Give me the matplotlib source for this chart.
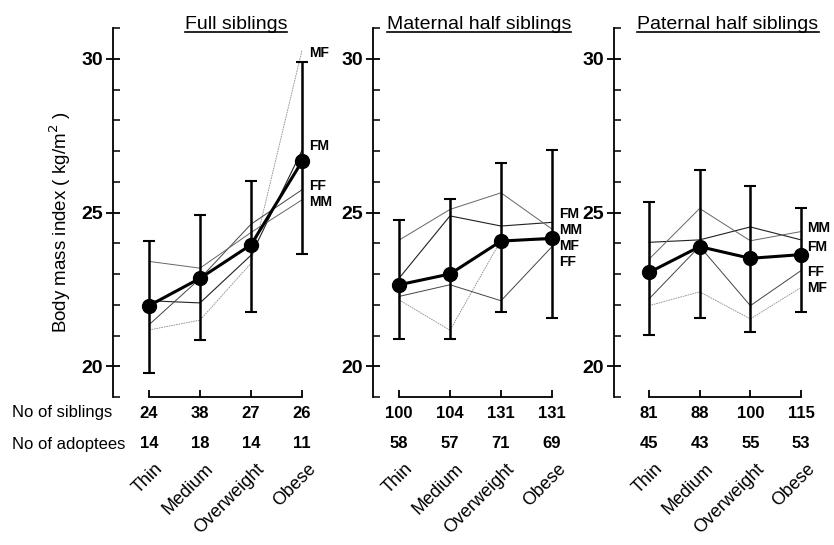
import matplotlib
matplotlib.use('Agg')
import matplotlib.pyplot as plt
from matplotlib.transforms import blended_transform_factory
from matplotlib.lines import Line2D

plt.rcParams['font.family'] = ['Liberation Sans', 'DejaVu Sans']

# ---------------- data ----------------
categories = ['Thin', 'Medium', 'Overweight', 'Obese']
panel_titles = ['Full siblings', 'Maternal half siblings', 'Paternal half siblings']
y_label = 'Body mass index ( kg/m$^2$ )'
row_labels = ['No of siblings', 'No of adoptees']
series_names = ['MF', 'FM', 'FF', 'MM']

full_siblings_n = [24, 38, 27, 26]
full_adoptees_n = [14, 18, 14, 11]
maternal_siblings_n = [100, 104, 131, 131]
maternal_adoptees_n = [58, 57, 71, 69]
paternal_siblings_n = [81, 88, 100, 115]
paternal_adoptees_n = [45, 43, 55, 53]

full_mean = [21.97, 22.86, 23.95, 26.66]
full_upper = [24.07, 24.92, 26.03, 29.90]
full_lower = [19.78, 20.84, 21.75, 23.65]
full_MF = [21.18, 21.50, 23.35, 30.28]
full_FM = [22.13, 22.06, 23.61, 27.02]
full_FF = [21.35, 22.85, 24.62, 25.74]
full_MM = [23.41, 23.19, 24.35, 25.41]

maternal_mean = [22.65, 23.00, 24.07, 24.16]
maternal_upper = [24.75, 25.43, 26.62, 27.02]
maternal_lower = [20.89, 20.90, 21.75, 21.57]
maternal_MF = [22.16, 21.17, 24.10, 24.10]
maternal_FM = [22.86, 24.89, 24.56, 24.68]
maternal_FF = [22.27, 22.65, 22.13, 23.89]
maternal_MM = [24.10, 25.10, 25.64, 24.46]

paternal_mean = [23.05, 23.89, 23.51, 23.63]
paternal_upper = [25.35, 26.37, 25.87, 25.16]
paternal_lower = [21.02, 21.57, 21.13, 21.77]
paternal_MF = [21.97, 22.42, 21.54, 22.56]
paternal_FM = [24.03, 24.11, 24.53, 24.11]
paternal_FF = [22.19, 23.90, 21.97, 23.11]
paternal_MM = [23.48, 25.13, 24.08, 24.38]

panels = [
    dict(title=panel_titles[0], mean=full_mean, upper=full_upper, lower=full_lower,
         series={'MF': full_MF, 'FM': full_FM, 'FF': full_FF, 'MM': full_MM},
         sib=full_siblings_n, adopt=full_adoptees_n,
         label_y={'MF': 30.2, 'FM': 27.15, 'FF': 25.85, 'MM': 25.35}),
    dict(title=panel_titles[1], mean=maternal_mean, upper=maternal_upper, lower=maternal_lower,
         series={'MF': maternal_MF, 'FM': maternal_FM, 'FF': maternal_FF, 'MM': maternal_MM},
         sib=maternal_siblings_n, adopt=maternal_adoptees_n,
         label_y={'FM': 24.94, 'MM': 24.43, 'MF': 23.91, 'FF': 23.40}),
    dict(title=panel_titles[2], mean=paternal_mean, upper=paternal_upper, lower=paternal_lower,
         series={'MF': paternal_MF, 'FM': paternal_FM, 'FF': paternal_FF, 'MM': paternal_MM},
         sib=paternal_siblings_n, adopt=paternal_adoptees_n,
         label_y={'MM': 24.49, 'FM': 23.89, 'FF': 23.05, 'MF': 22.56}),
]

series_style = {
    'MF': dict(color='#8a8a8a', lw=0.6, ls=(0, (2, 1))),
    'FM': dict(color='#222222', lw=0.8, ls='-'),
    'FF': dict(color='#444444', lw=0.7, ls='-'),
    'MM': dict(color='#666666', lw=0.7, ls='-'),
}

# ---------------- layout (pixels) ----------------
W, H = 834, 545
fig = plt.figure(figsize=(W / 100, H / 100), dpi=100)
fig.patch.set_facecolor('white')

# (spine_x, first_cat_x, last_cat_x, right_edge)
geom = [(113, 149, 302, 340), (373, 399, 552, 600), (614, 649, 801, 834)]
top_px, bot_px = 28, 397
ylo, yhi = 19.0, 31.0

def fy(py):
    return 1 - py / H

x = list(range(len(categories)))
axes = []
for p, (sx, fx, lx, rx) in zip(panels, geom):
    ax = fig.add_axes([sx / W, fy(bot_px), (rx - sx) / W, (bot_px - top_px) / H])
    step = (lx - fx) / 3
    ax.set_xlim(-(fx - sx) / step, 3 + (rx - lx) / step)
    ax.set_ylim(ylo, yhi)
    ax.patch.set_alpha(0)
    for s in ['top', 'right']:
        ax.spines[s].set_visible(False)
    ax.spines['left'].set_linewidth(1.3)
    ax.spines['bottom'].set_linewidth(1.3)
    ax.spines['bottom'].set_bounds(0, 3)
    ax.set_xticks(x)
    ax.set_xticklabels([])
    ax.tick_params(axis='x', direction='in', length=5, width=1.3)
    ax.set_yticks([20, 25, 30])
    ax.set_yticks([v for v in range(19, 32) if v % 5 != 0], minor=True)
    ax.tick_params(axis='y', which='major', direction='inout', length=10, width=1.3,
                   labelsize=14, pad=2)
    ax.tick_params(axis='y', which='minor', direction='in', length=5, width=1.1)
    for lab in ax.get_yticklabels():
        lab.set_fontweight('bold')

    # family series
    for name in series_names:
        st = series_style[name]
        ax.plot(x, p['series'][name], color=st['color'], lw=st['lw'], ls=st['ls'],
                zorder=2)
    # error bars
    m = p['mean']
    yerr = [[mi - lo for mi, lo in zip(m, p['lower'])],
            [up - mi for mi, up in zip(m, p['upper'])]]
    ax.errorbar(x, m, yerr=yerr, fmt='none', ecolor='black', elinewidth=1.8,
                capsize=4, capthick=1.5, zorder=3)
    ax.plot(x, m, color='black', lw=2.2, marker='o', ms=10, zorder=4)

    # series labels
    for name in series_names:
        ax.text(3.13, p['label_y'][name], name, fontsize=10, fontweight='bold',
                ha='left', va='center', zorder=5)

    # rows under the axis
    tr = blended_transform_factory(ax.transData, fig.transFigure)
    for i in x:
        ax.text(i, fy(413), str(p['sib'][i]), transform=tr, ha='center', va='center',
                fontsize=12, fontweight='bold')
        ax.text(i, fy(444), str(p['adopt'][i]), transform=tr, ha='center', va='center',
                fontsize=12, fontweight='bold')
        ax.text(i + 0.1, fy(460), categories[i], transform=tr, ha='right', va='top',
                rotation=45, rotation_mode='anchor', fontsize=13)
    axes.append(ax)

# row labels
fig.text(12 / W, fy(413), row_labels[0], ha='left', va='center', fontsize=12)
fig.text(12 / W, fy(444), row_labels[1], ha='left', va='center', fontsize=12)

# y label
fig.text(60 / W, fy(222), y_label, rotation=90, ha='center', va='center', fontsize=13.5)

# titles with underline
title_cx = [236, 479, 728]
title_objs = []
for t, cx in zip(panel_titles, title_cx):
    title_objs.append(fig.text(cx / W, fy(29), t, ha='center', va='baseline', fontsize=14))
fig.canvas.draw()
rend = fig.canvas.get_renderer()
for tobj in title_objs:
    bb = tobj.get_window_extent(renderer=rend)
    yline = fy(32)
    fig.add_artist(Line2D([bb.x0 / W, bb.x1 / W], [yline, yline], color='black', lw=1.2,
                          transform=fig.transFigure))

fig.savefig('out.png', dpi=100, facecolor='white')
